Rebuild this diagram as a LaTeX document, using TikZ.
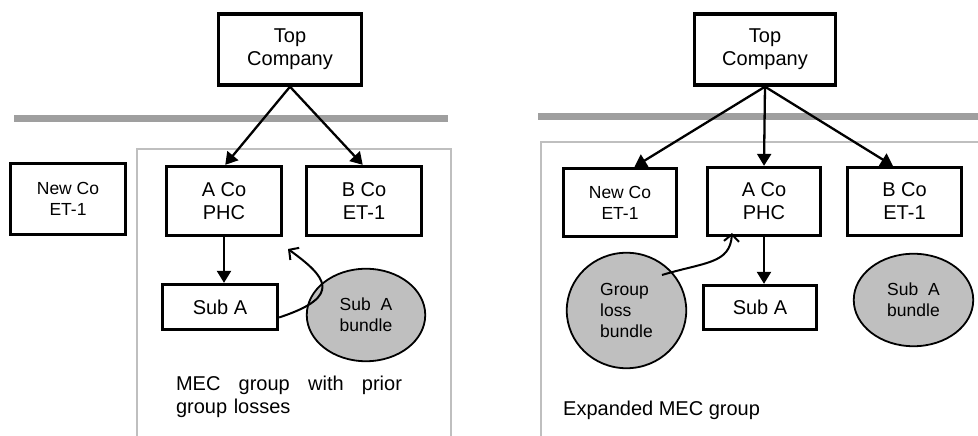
\documentclass[tikz,border=0pt]{standalone}
\usepackage{fontspec}
\setmainfont{Liberation Sans}
\usetikzlibrary{arrows.meta,shapes.geometric}

\tikzset{
  company/.style={draw, line width=2.8pt, align=center, inner sep=0pt,
    font=\fontsize{20}{23}\selectfont},
  newco/.style={company, line width=3.4pt, font=\fontsize{17.5}{21}\selectfont},
  bundle/.style={draw, ellipse, fill=gray!50, line width=1.8pt, align=left,
    inner sep=0pt, font=\fontsize{17.5}{21}\selectfont},
  owns/.style={-{Triangle[length=12pt,width=14pt]}, line width=2.3pt},
  moves/.style={-{Straight Barb[length=7pt,width=15pt]}, line width=2pt},
  divider/.style={gray!75, line width=7pt},
  mecbox/.style={gray!50, line width=2pt},
  caption/.style={inner sep=0pt, font=\fontsize{20}{23}\selectfont}
}

\begin{document}
\begin{tikzpicture}[x=1pt, y=1pt]
\clip (0,0) rectangle (978,436);

% draw group before

\draw[divider] (14,317) -- (448,317);
\draw[mecbox] (137,-5) -- (137,287) -- (451,287) -- (451,-5);

\node[company, line width=3.4pt, minimum width=143, minimum height=71] (topL) at (290,386.5) {Top\\Company};
\node[newco, minimum width=115, minimum height=71] (newcoL) at (68,237) {New Co\\ET-1};
\node[company, minimum width=115.5, minimum height=69.5] (acoL) at (224,235) {A Co\\PHC};
\node[company, minimum width=115.5, minimum height=69.5] (bcoL) at (364,235) {B Co\\ET-1};
\node[company, minimum width=115.5, minimum height=45.5] (subaL) at (220,129) {Sub A};
\node[bundle, minimum width=118.5, minimum height=92.5] (bundleL) at (366,121) {Sub~~A\\bundle};

\draw[owns] (topL.south) -- (acoL.88);
\draw[owns] (topL.south) -- (bcoL.92);
\draw[owns] (acoL.south) -- (acoL.south |- subaL.north);

\coordinate (tipL) at (288,187);
\draw[moves] (subaL.-10) .. controls (345,140) and (325,160) .. (tipL);

\node[caption, text width=226, align=left] (captionL) at (289,39.5)
  {MEC\hfill group\hfill with\hfill prior\\group losses};

% draw expanded group

\draw[divider] (538,319.5) -- (978,319.5);
\draw[mecbox] (541,-5) -- (541,294) -- (990,294);

\node[company, line width=3.4pt, minimum width=141, minimum height=71] (topR) at (765,386.5) {Top\\Company};
\node[newco, minimum width=113, minimum height=68] (newcoR) at (620,233.5) {New Co\\ET-1};
\node[company, minimum width=113.5, minimum height=68.5] (acoR) at (764,234.5) {A Co\\PHC};
\node[company, minimum width=114.5, minimum height=68.5] (bcoR) at (904.5,234.5) {B Co\\ET-1};
\node[company, minimum width=113.5, minimum height=44.5] (subaR) at (760,128.5) {Sub A};
\node[bundle, minimum width=119.5, minimum height=115.5] (lossR) at (626.5,125.5) {Group\\loss\\bundle};
\node[bundle, minimum width=119.5, minimum height=92.5] (bundleR) at (913.5,136) {Sub~~A\\bundle};

\draw[owns] (topR.south) -- (newcoR.68);
\draw[owns] (topR.south) -- (acoR.north);
\draw[owns] (topR.south) -- (bcoR.108);
\draw[owns] (acoR.south) -- (acoR.south |- subaR.north);

\coordinate (tailR) at (662,161);
\coordinate (tipR) at (732,203);
\draw[moves] (tailR) .. controls (705,174) and (730,172) .. (tipR);

\node[caption, anchor=west] (captionR) at (563,26) {Expanded MEC group};

\end{tikzpicture}
\end{document}
